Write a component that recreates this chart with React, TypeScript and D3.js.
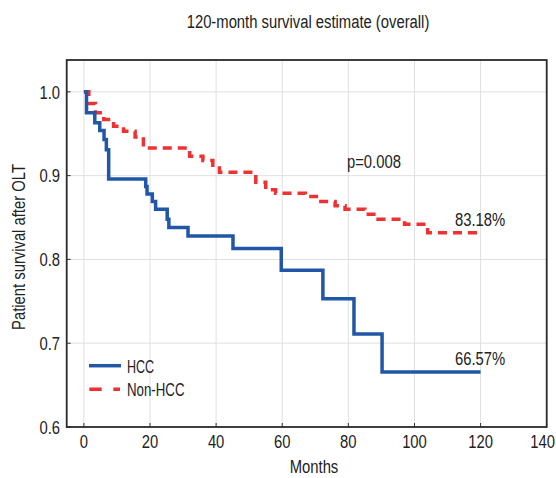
import React from "react";
import * as d3 from "d3";

// Kaplan–Meier step data: [month, survival]
const hccMonths = [0, 0.8, 3.3, 4.8, 6.1, 6.8, 7.5, 18.7, 19.1, 20.7, 21.7, 25.2, 25.7, 31.5, 45.1, 59.7, 72.3, 81.7, 90.2, 120];
const hccSurv = [1.0, 0.975, 0.963, 0.954, 0.943, 0.931, 0.896, 0.887, 0.878, 0.869, 0.86, 0.848, 0.838, 0.828, 0.813, 0.787, 0.753, 0.711, 0.6657, 0.6657];

const nonMonths = [0, 1.5, 3.5, 6, 9, 12, 15.5, 18, 19, 32, 36, 39, 41, 52, 55, 58, 67, 71, 76, 79, 85, 89, 97, 104, 120];
const nonSurv = [1.0, 0.986, 0.975, 0.967, 0.959, 0.953, 0.946, 0.937, 0.933, 0.923, 0.918, 0.909, 0.904, 0.892, 0.883, 0.879, 0.875, 0.869, 0.864, 0.86, 0.854, 0.848, 0.842, 0.8318, 0.8318];

const xTicks = [0, 20, 40, 60, 80, 100, 120, 140];
const yTicks = [0.6, 0.7, 0.8, 0.9, 1.0];

const seriesNames = ["HCC", "Non-HCC"];
const endLabels = ["66.57%", "83.18%"];
const pLabel = "p=0.008";

const FONT = "'Liberation Sans', Arial, sans-serif";
const SX = 0.78;

function T(props: { x: number; y: number; anchor?: string; size?: number; sx?: number; rotate?: number; children: React.ReactNode }) {
  const { x, y, anchor = "start", size = 19, sx = SX, rotate = 0, children } = props;
  return (
    <text
      transform={`translate(${x},${y}) rotate(${rotate}) scale(${sx},1)`}
      textAnchor={anchor}
      fontSize={size}
      fill="#222"
    >
      {children}
    </text>
  );
}

export default function App() {
  const W = 556, H = 478;
  const L = 66.7, R = 546.7, Tp = 60, B = 427;
  const x = d3.scaleLinear().domain([-5.2, 140]).range([L, R]);
  const y = d3.scaleLinear().domain([0.6, 1.038]).range([B, Tp]);

  const line = d3.line<[number, number]>().x(d => x(d[0])).y(d => y(d[1])).curve(d3.curveStepAfter);
  const hcc: [number, number][] = hccMonths.map((m, i) => [m, hccSurv[i]]);
  const non: [number, number][] = nonMonths.map((m, i) => [m, nonSurv[i]]);

  const blue = "#2157a6";
  const red = "#ee3131";
  const lastTick = xTicks[xTicks.length - 1];

  return (
    <svg width={W} height={H} style={{ position: "absolute", left: 0, top: 0, background: "#fff" }} fontFamily={FONT}>
      <rect x={0} y={0} width={W} height={H} fill="#fff" />
      <T x={308} y={28} anchor="middle">120-month survival estimate (overall)</T>
      {/* grid */}
      {xTicks.map(t => (
        <line key={"gx" + t} x1={x(t)} x2={x(t)} y1={Tp} y2={B} stroke="#e0e0e0" strokeWidth={1} />
      ))}
      {yTicks.map(t => (
        <line key={"gy" + t} x1={L} x2={R} y1={y(t)} y2={y(t)} stroke="#e0e0e0" strokeWidth={1} />
      ))}
      {/* ticks */}
      {xTicks.map(t => (
        <line key={"tx" + t} x1={x(t)} x2={x(t)} y1={B} y2={B - 4} stroke="#333" strokeWidth={1} />
      ))}
      {yTicks.map(t => (
        <line key={"ty" + t} x1={L} x2={L + 4} y1={y(t)} y2={y(t)} stroke="#333" strokeWidth={1} />
      ))}
      {/* curves */}
      <path d={line(non) || ""} fill="none" stroke={red} strokeWidth={3.5} strokeDasharray="9,6" />
      <path d={line(hcc) || ""} fill="none" stroke={blue} strokeWidth={3.5} />
      {/* frame */}
      <rect x={L} y={Tp} width={R - L} height={B - Tp} fill="none" stroke="#2a2a2a" strokeWidth={1.8} />
      {/* tick labels */}
      {xTicks.map(t =>
        t === lastTick ? (
          <T key={"lx" + t} x={W - 1} y={448} anchor="end">{t}</T>
        ) : (
          <T key={"lx" + t} x={x(t)} y={448} anchor="middle">{t}</T>
        )
      )}
      {yTicks.map(t => (
        <T key={"ly" + t} x={60} y={y(t) + 6.8} anchor="end">{t.toFixed(1)}</T>
      ))}
      <T x={314} y={473} anchor="middle">Months</T>
      <T x={25} y={247} anchor="middle" rotate={-90}>Patient survival after OLT</T>
      {/* annotations */}
      <T x={347} y={168}>{pLabel}</T>
      <T x={455} y={226}>{endLabels[1]}</T>
      <T x={455} y={365}>{endLabels[0]}</T>
      {/* legend */}
      <line x1={89} x2={121} y1={365.7} y2={365.7} stroke={blue} strokeWidth={3.5} />
      <T x={127} y={373} sx={0.66}>{seriesNames[0]}</T>
      <line x1={89.3} x2={120} y1={389.3} y2={389.3} stroke={red} strokeWidth={3.5} strokeDasharray="12.4,11.6" />
      <T x={127} y={396} sx={0.7}>{seriesNames[1]}</T>
    </svg>
  );
}
